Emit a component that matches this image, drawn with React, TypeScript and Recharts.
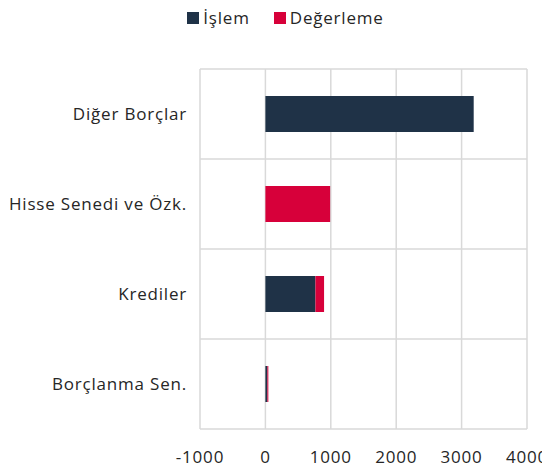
import React from 'react';
import { BarChart, Bar, XAxis, YAxis, CartesianGrid, Legend } from 'recharts';

const categories = ['Diğer Borçlar', 'Hisse Senedi ve Özk.', 'Krediler', 'Borçlanma Sen.'];
const islem = [3185, 0, 765, 30];
const degerleme = [0, 990, 132, 15];
const xTicks = [-1000, 0, 1000, 2000, 3000, 4000];
const seriesOrder = ['islem', 'degerleme'];

const data = categories.map((c, i) => ({ name: c, islem: islem[i], degerleme: degerleme[i] }));

const FONT = '"Open Sans", sans-serif';
const TEXT = '#262626';
const FS = 17;
const LS = 0.8;

const LegendContent = (props: any) => {
  const items = [...(props.payload || [])].sort(
    (a: any, b: any) => seriesOrder.indexOf(a.dataKey) - seriesOrder.indexOf(b.dataKey)
  );
  return (
    <div style={{ display: 'flex', justifyContent: 'center', fontFamily: FONT, fontSize: FS, letterSpacing: LS, color: TEXT }}>
      {items.map((it: any, i: number) => (
        <div key={i} style={{ display: 'flex', alignItems: 'center', marginRight: i < items.length - 1 ? 24 : 0 }}>
          <span style={{ display: 'inline-block', width: 12, height: 12, background: it.color, marginRight: 4 }} />
          <span>{it.value}</span>
        </div>
      ))}
    </div>
  );
};

export default function App() {
  return (
    <div style={{ position: 'absolute', left: 0, top: 0, fontFamily: FONT }}>
      <BarChart
        width={542}
        height={466}
        data={data}
        layout="vertical"
        margin={{ top: 69, right: 15, bottom: 0, left: 0 }}
        barCategoryGap="30%"
      >
        <CartesianGrid
          stroke="#d9d9d9"
          strokeWidth={1.5}
          horizontalCoordinatesGenerator={({ offset }: any) =>
            Array.from({ length: categories.length + 1 }, (_, i) => offset.top + (i * offset.height) / categories.length)
          }
        />
        <XAxis
          type="number"
          domain={[-1000, 4000]}
          ticks={xTicks}
          axisLine={false}
          tickLine={false}
          height={37}
          tickMargin={16}
          tick={{ fill: TEXT, fontSize: FS, fontFamily: FONT, letterSpacing: LS }}
          interval={0}
        />
        <YAxis
          type="category"
          dataKey="name"
          width={200}
          axisLine={false}
          tickLine={false}
          tickMargin={7}
          tick={{ fill: TEXT, fontSize: FS, fontFamily: FONT, letterSpacing: LS }}
        />
        <Legend
          verticalAlign="top"
          align="center"
          content={LegendContent}
          wrapperStyle={{ top: 6, left: 22, height: 0 }}
        />
        <Bar dataKey="islem" name="İşlem" stackId="a" fill="#1f3247" barSize={36} isAnimationActive={false} />
        <Bar dataKey="degerleme" name="Değerleme" stackId="a" fill="#d7003a" barSize={36} isAnimationActive={false} />
      </BarChart>
    </div>
  );
}
